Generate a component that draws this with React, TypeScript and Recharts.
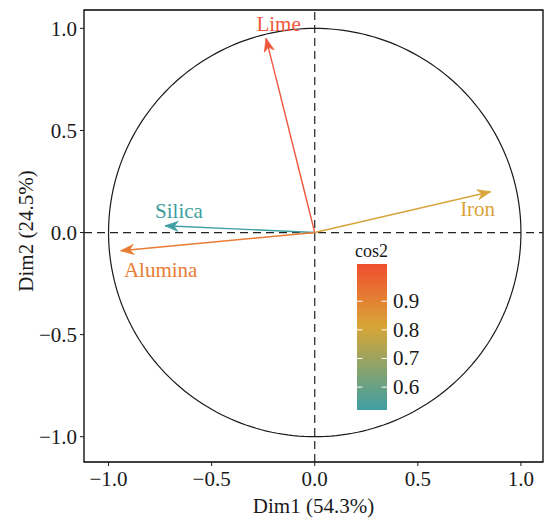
import React from 'react';
import { ComposedChart, Line, XAxis, YAxis, ReferenceLine, ReferenceArea, Legend } from 'recharts';

// ---- data ----
const variables = ['Lime', 'Iron', 'Silica', 'Alumina'];
const dim1 = [-0.236, 0.853, -0.726, -0.941];
const dim2 = [0.951, 0.2, 0.033, -0.089];
const cos2 = [0.96, 0.768, 0.528, 0.893];
const axisTicks = [-1, -0.5, 0, 0.5, 1];
const colorbarTicks = [0.6, 0.7, 0.8, 0.9];
const colorbarLimits = [0.52, 1.03];
const xTitle = 'Dim1 (54.3%)';
const yTitle = 'Dim2 (24.5%)';
const legendTitle = 'cos2';

// ---- style ----
const FONT = '"Liberation Serif", "Times New Roman", serif';
const arrowColors: Record<string, string> = {
  Lime: '#F0563A',
  Iron: '#D9A43B',
  Silica: '#3F9EA1',
  Alumina: '#E97C34',
};
const labelOffsets: Record<string, [number, number]> = {
  Lime: [12.5, -14],
  Iron: [-13, 17],
  Silica: [14, -15],
  Alumina: [40, 19],
};

// unit circle (geometric reference, not data)
const unitCircle = Array.from({ length: 241 }, (_, i) => {
  const t = (i / 240) * 2 * Math.PI;
  return { x: Math.cos(t), y: Math.sin(t) };
});

const fmt = (v: number) => (v < 0 ? '\u2212' : '') + Math.abs(v).toFixed(1);

const makeArrowDot = (name: string) => {
  let origin: { x: number; y: number } | null = null;
  return (props: any) => {
    const { cx, cy, index, points } = props;
    if (index === 0) {
      origin = { x: cx, y: cy };
      return <g key={`d-${name}-0`} />;
    }
    const o = points && points[0] ? { x: points[0].x, y: points[0].y } : origin || { x: cx, y: cy };
    const ang = Math.atan2(cy - o.y, cx - o.x);
    const L = 13;
    const W = 5;
    const N = 9;
    const ux = Math.cos(ang);
    const uy = Math.sin(ang);
    const px = -uy;
    const py = ux;
    const bx = cx - ux * L;
    const by = cy - uy * L;
    const nx = cx - ux * N;
    const ny = cy - uy * N;
    const color = arrowColors[name];
    const [dx, dy] = labelOffsets[name];
    return (
      <g key={`d-${name}-1`}>
        <path
          d={`M${cx},${cy} L${bx + px * W},${by + py * W} L${nx},${ny} L${bx - px * W},${by - py * W} Z`}
          fill={color}
          stroke={color}
          strokeWidth={0.8}
          strokeLinejoin="miter"
        />
        <text
          x={cx + dx}
          y={cy + dy}
          textAnchor="middle"
          dominantBaseline="central"
          fill={color}
          fontSize={21}
          fontFamily={FONT}
          style={{ fontFamily: FONT }}
        >
          {name}
        </text>
      </g>
    );
  };
};

const ColorBar = () => {
  const barX = 17;
  const barW = 30;
  const barTop = 24;
  const barH = 146;
  const yFor = (v: number) =>
    barTop + barH - ((v - colorbarLimits[0]) / (colorbarLimits[1] - colorbarLimits[0])) * barH;
  return (
    <svg width={120} height={180} style={{ display: 'block', overflow: 'visible', fontFamily: FONT }}>
      <defs>
        <linearGradient id="cos2grad" x1="0" y1="1" x2="0" y2="0">
          <stop offset="0" stopColor="#3E9FA3" />
          <stop offset="0.57" stopColor="#D8A636" />
          <stop offset="1" stopColor="#F04E2F" />
        </linearGradient>
      </defs>
      <text x={15} y={17} fontSize={18} fontFamily={FONT} style={{ fontFamily: FONT }} fill="#1a1a1a">
        {legendTitle}
      </text>
      <rect x={barX} y={barTop} width={barW} height={barH} fill="url(#cos2grad)" />
      {colorbarTicks.map((t) => {
        const y = yFor(t);
        return (
          <g key={t}>
            <line x1={barX} x2={barX + 5.5} y1={y} y2={y} stroke="#fff" strokeWidth={1} />
            <line x1={barX + barW - 5.5} x2={barX + barW} y1={y} y2={y} stroke="#fff" strokeWidth={1} />
            <text
              x={barX + barW + 6}
              y={y}
              dominantBaseline="central"
              fontSize={21}
              fontFamily={FONT}
              style={{ fontFamily: FONT }}
              fill="#1a1a1a"
            >
              {t.toFixed(1)}
            </text>
          </g>
        );
      })}
    </svg>
  );
};

const XTitle = (props: any) => {
  const vb = props.viewBox || { x: 84, width: 459 };
  return (
    <text x={vb.x + vb.width / 2} y={513} textAnchor="middle" fontSize={21} fontFamily={FONT} fill="#1a1a1a">
      {xTitle}
    </text>
  );
};

const YTitle = (props: any) => {
  const vb = props.viewBox || { y: 10, height: 452 };
  const cx = 26;
  const cy = vb.y + vb.height / 2 - 5;
  return (
    <text
      x={cx}
      y={cy}
      transform={`rotate(-90 ${cx} ${cy})`}
      textAnchor="middle"
      dominantBaseline="central"
      fontSize={21}
      fontFamily={FONT}
      fill="#1a1a1a"
    >
      {yTitle}
    </text>
  );
};

const xDomain = [-1.119, 1.107];
const yDomain = [-1.124, 1.09];

export default function App() {
  return (
    <div style={{ position: 'absolute', left: 0, top: 0, fontFamily: FONT }}>
      <ComposedChart width={544} height={519} margin={{ top: 10, right: 1, bottom: 0, left: 0 }}>
        <XAxis
          type="number"
          dataKey="x"
          domain={xDomain}
          ticks={axisTicks}
          allowDataOverflow
          height={57}
          tickSize={4}
          tickMargin={5}
          axisLine={false}
          tickLine={{ stroke: '#1a1a1a' }}
          tick={{ fill: '#1a1a1a', fontSize: 21, fontFamily: FONT }}
          tickFormatter={fmt}
          label={<XTitle />}
        />
        <YAxis
          type="number"
          dataKey="y"
          domain={yDomain}
          ticks={axisTicks}
          allowDataOverflow
          width={84}
          tickSize={4}
          tickMargin={3}
          axisLine={false}
          tickLine={{ stroke: '#1a1a1a' }}
          tick={{ fill: '#1a1a1a', fontSize: 21, fontFamily: FONT }}
          tickFormatter={fmt}
          label={<YTitle />}
        />
        <ReferenceArea
          x1={xDomain[0]}
          x2={xDomain[1]}
          y1={yDomain[0]}
          y2={yDomain[1]}
          fill="none"
          fillOpacity={0}
          stroke="#000"
          strokeWidth={1.3}
        />
        <Line
          data={unitCircle}
          dataKey="y"
          type="linear"
          stroke="#1a1a1a"
          strokeWidth={1.2}
          dot={false}
          activeDot={false}
          legendType="none"
          isAnimationActive={false}
        />
        <ReferenceLine x={0} stroke="#222" strokeDasharray="8 5" strokeWidth={1.2} />
        <ReferenceLine y={0} stroke="#222" strokeDasharray="8 5" strokeWidth={1.2} />
        {variables.map((name, i) => (
          <Line
            key={name}
            data={[
              { x: 0, y: 0 },
              { x: dim1[i], y: dim2[i], cos2: cos2[i] },
            ]}
            dataKey="y"
            type="linear"
            stroke={arrowColors[name]}
            strokeWidth={1.4}
            dot={makeArrowDot(name)}
            activeDot={false}
            legendType="none"
            isAnimationActive={false}
          />
        ))}
        <Legend
          layout="vertical"
          align="center"
          verticalAlign="middle"
          content={<ColorBar />}
          wrapperStyle={{ left: 340, top: 240, width: 120, height: 180 }}
        />
      </ComposedChart>
    </div>
  );
}
